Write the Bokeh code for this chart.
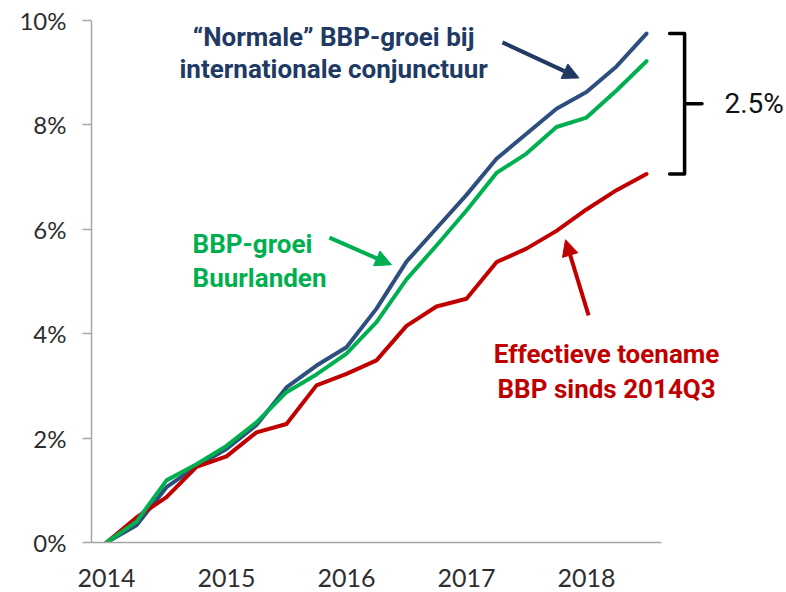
import numpy as np
from bokeh.plotting import figure
from bokeh.models import Range1d, FixedTicker, Label, Arrow, NormalHead
from bokeh.embed import file_html
from bokeh.resources import INLINE

# ---- data (cumulative GDP growth, % since start) ----
year_labels = ["2014", "2015", "2016", "2017", "2018"]
y_ticks = [0, 2, 4, 6, 8, 10]
normale = [0.00, 0.33, 1.06, 1.46, 1.79, 2.25, 2.97, 3.39, 3.74, 4.48,
           5.38, 6.02, 6.66, 7.35, 7.83, 8.31, 8.63, 9.12, 9.75]
buurlanden = [0.00, 0.40, 1.19, 1.50, 1.85, 2.30, 2.88, 3.22, 3.62, 4.22,
              5.04, 5.69, 6.36, 7.08, 7.45, 7.96, 8.14, 8.66, 9.22]
effectief = [0.00, 0.48, 0.87, 1.45, 1.65, 2.11, 2.27, 3.01, 3.23, 3.49,
             4.15, 4.52, 4.67, 5.37, 5.63, 5.97, 6.38, 6.75, 7.06]
gap_label = "2.5%"

qx = np.arange(len(normale))
year_ticks = [4 * i for i in range(len(year_labels))]

BLUE_LINE = "#2c4f7e"
BLUE_TEXT = "#203a63"
GREEN = "#00b050"
RED = "#c00000"
AXIS = "#a6a6a6"
TICKTXT = "#2e2e2e"

W, H = 786, 592
LEFT, BOTTOM = 91, 50
PX_Q, PX_Y = 30.0, 52.2

p = figure(width=W, height=H, output_backend="svg", toolbar_location=None,
           x_range=Range1d(-0.5, -0.5 + (W - LEFT) / PX_Q),
           y_range=Range1d(0, (H - BOTTOM) / PX_Y),
           min_border_left=LEFT, min_border_right=0, min_border_top=0,
           min_border_bottom=BOTTOM)
p.outline_line_color = None
p.grid.visible = False
p.background_fill_color = "white"
p.border_fill_color = "white"

# y axis
p.yaxis.ticker = FixedTicker(ticks=y_ticks)
p.yaxis.major_label_overrides = {t: f"{t}%" for t in y_ticks}
p.yaxis.bounds = (0, 10)
p.yaxis.axis_line_color = AXIS
p.yaxis.axis_line_width = 1.5
p.yaxis.major_tick_line_color = AXIS
p.yaxis.major_tick_line_width = 1.5
p.yaxis.major_tick_out = 9
p.yaxis.major_tick_in = 0
p.yaxis.minor_tick_line_color = None
p.yaxis.major_label_standoff = 16
p.yaxis.major_label_text_font = "Lato"
p.yaxis.major_label_text_font_size = "24px"
p.yaxis.major_label_text_color = TICKTXT

# x axis
p.xaxis.ticker = FixedTicker(ticks=year_ticks)
p.xaxis.major_label_overrides = {t: lab for t, lab in zip(year_ticks, year_labels)}
p.xaxis.bounds = (-0.5, len(normale) - 0.5)
p.xaxis.axis_line_color = AXIS
p.xaxis.axis_line_width = 1.5
p.xaxis.major_tick_line_color = None
p.xaxis.major_tick_out = 0
p.xaxis.major_tick_in = 0
p.xaxis.minor_tick_line_color = None
p.xaxis.major_label_standoff = 26
p.xaxis.major_label_text_font = "Lato"
p.xaxis.major_label_text_font_size = "25px"
p.xaxis.major_label_text_color = TICKTXT

# lines
p.line(qx, normale, line_color=BLUE_LINE, line_width=4, line_join="round", line_cap="round")
p.line(qx, effectief, line_color=RED, line_width=4, line_join="round", line_cap="round")
p.line(qx, buurlanden, line_color=GREEN, line_width=4, line_join="round", line_cap="round")

FONT = "Roboto"

def lab(x, y, text, color, size="26px", align="center", style="bold", baseline="alphabetic"):
    p.add_layout(Label(x=x, y=y, text=text, text_color=color, text_font=FONT,
                       text_font_size=size, text_font_style=style,
                       text_align=align, text_baseline=baseline))

def arrow(x0, y0, x1, y1, color):
    p.add_layout(Arrow(x_start=x0, y_start=y0, x_end=x1, y_end=y1,
                       line_color=color, line_width=4,
                       end=NormalHead(size=16, fill_color=color, line_color=color, line_width=1)))

# "Normale" annotation
lab(7.57, 9.68, "\u201cNormale\u201d BBP-groei bij", BLUE_TEXT)
lab(7.57, 9.07, "internationale conjunctuur", BLUE_TEXT)
arrow(13.2, 9.58, 15.75, 8.90, BLUE_TEXT)

# Buurlanden annotation
lab(2.87, 5.72, "BBP-groei", GREEN, align="left")
lab(2.87, 5.07, "Buurlanden", GREEN, align="left")
arrow(7.43, 5.84, 9.5, 5.32, GREEN)

# Effectieve annotation
lab(16.67, 3.62, "Effectieve toename", RED)
lab(16.67, 2.95, "BBP sinds 2014Q3", RED)
arrow(16.07, 4.35, 15.3, 5.80, RED)

# bracket showing the gap between the top and bottom line ends
top = normale[-1]
bot = effectief[-1]
mid = (top + bot) / 2
xa, xv, xt = 18.77, 19.27, 19.85
p.line([xa, xv, xv, xt], [top, top, mid, mid], line_color="black", line_width=3.5,
       line_join="round", line_cap="round")
p.line([xa, xv, xv], [bot, bot, mid], line_color="black", line_width=3.5,
       line_join="round", line_cap="round")
lab(20.6, mid, gap_label, "#111111", size="28px", align="left", style="normal", baseline="middle")

open("out.html", "w").write(file_html(p, INLINE))
